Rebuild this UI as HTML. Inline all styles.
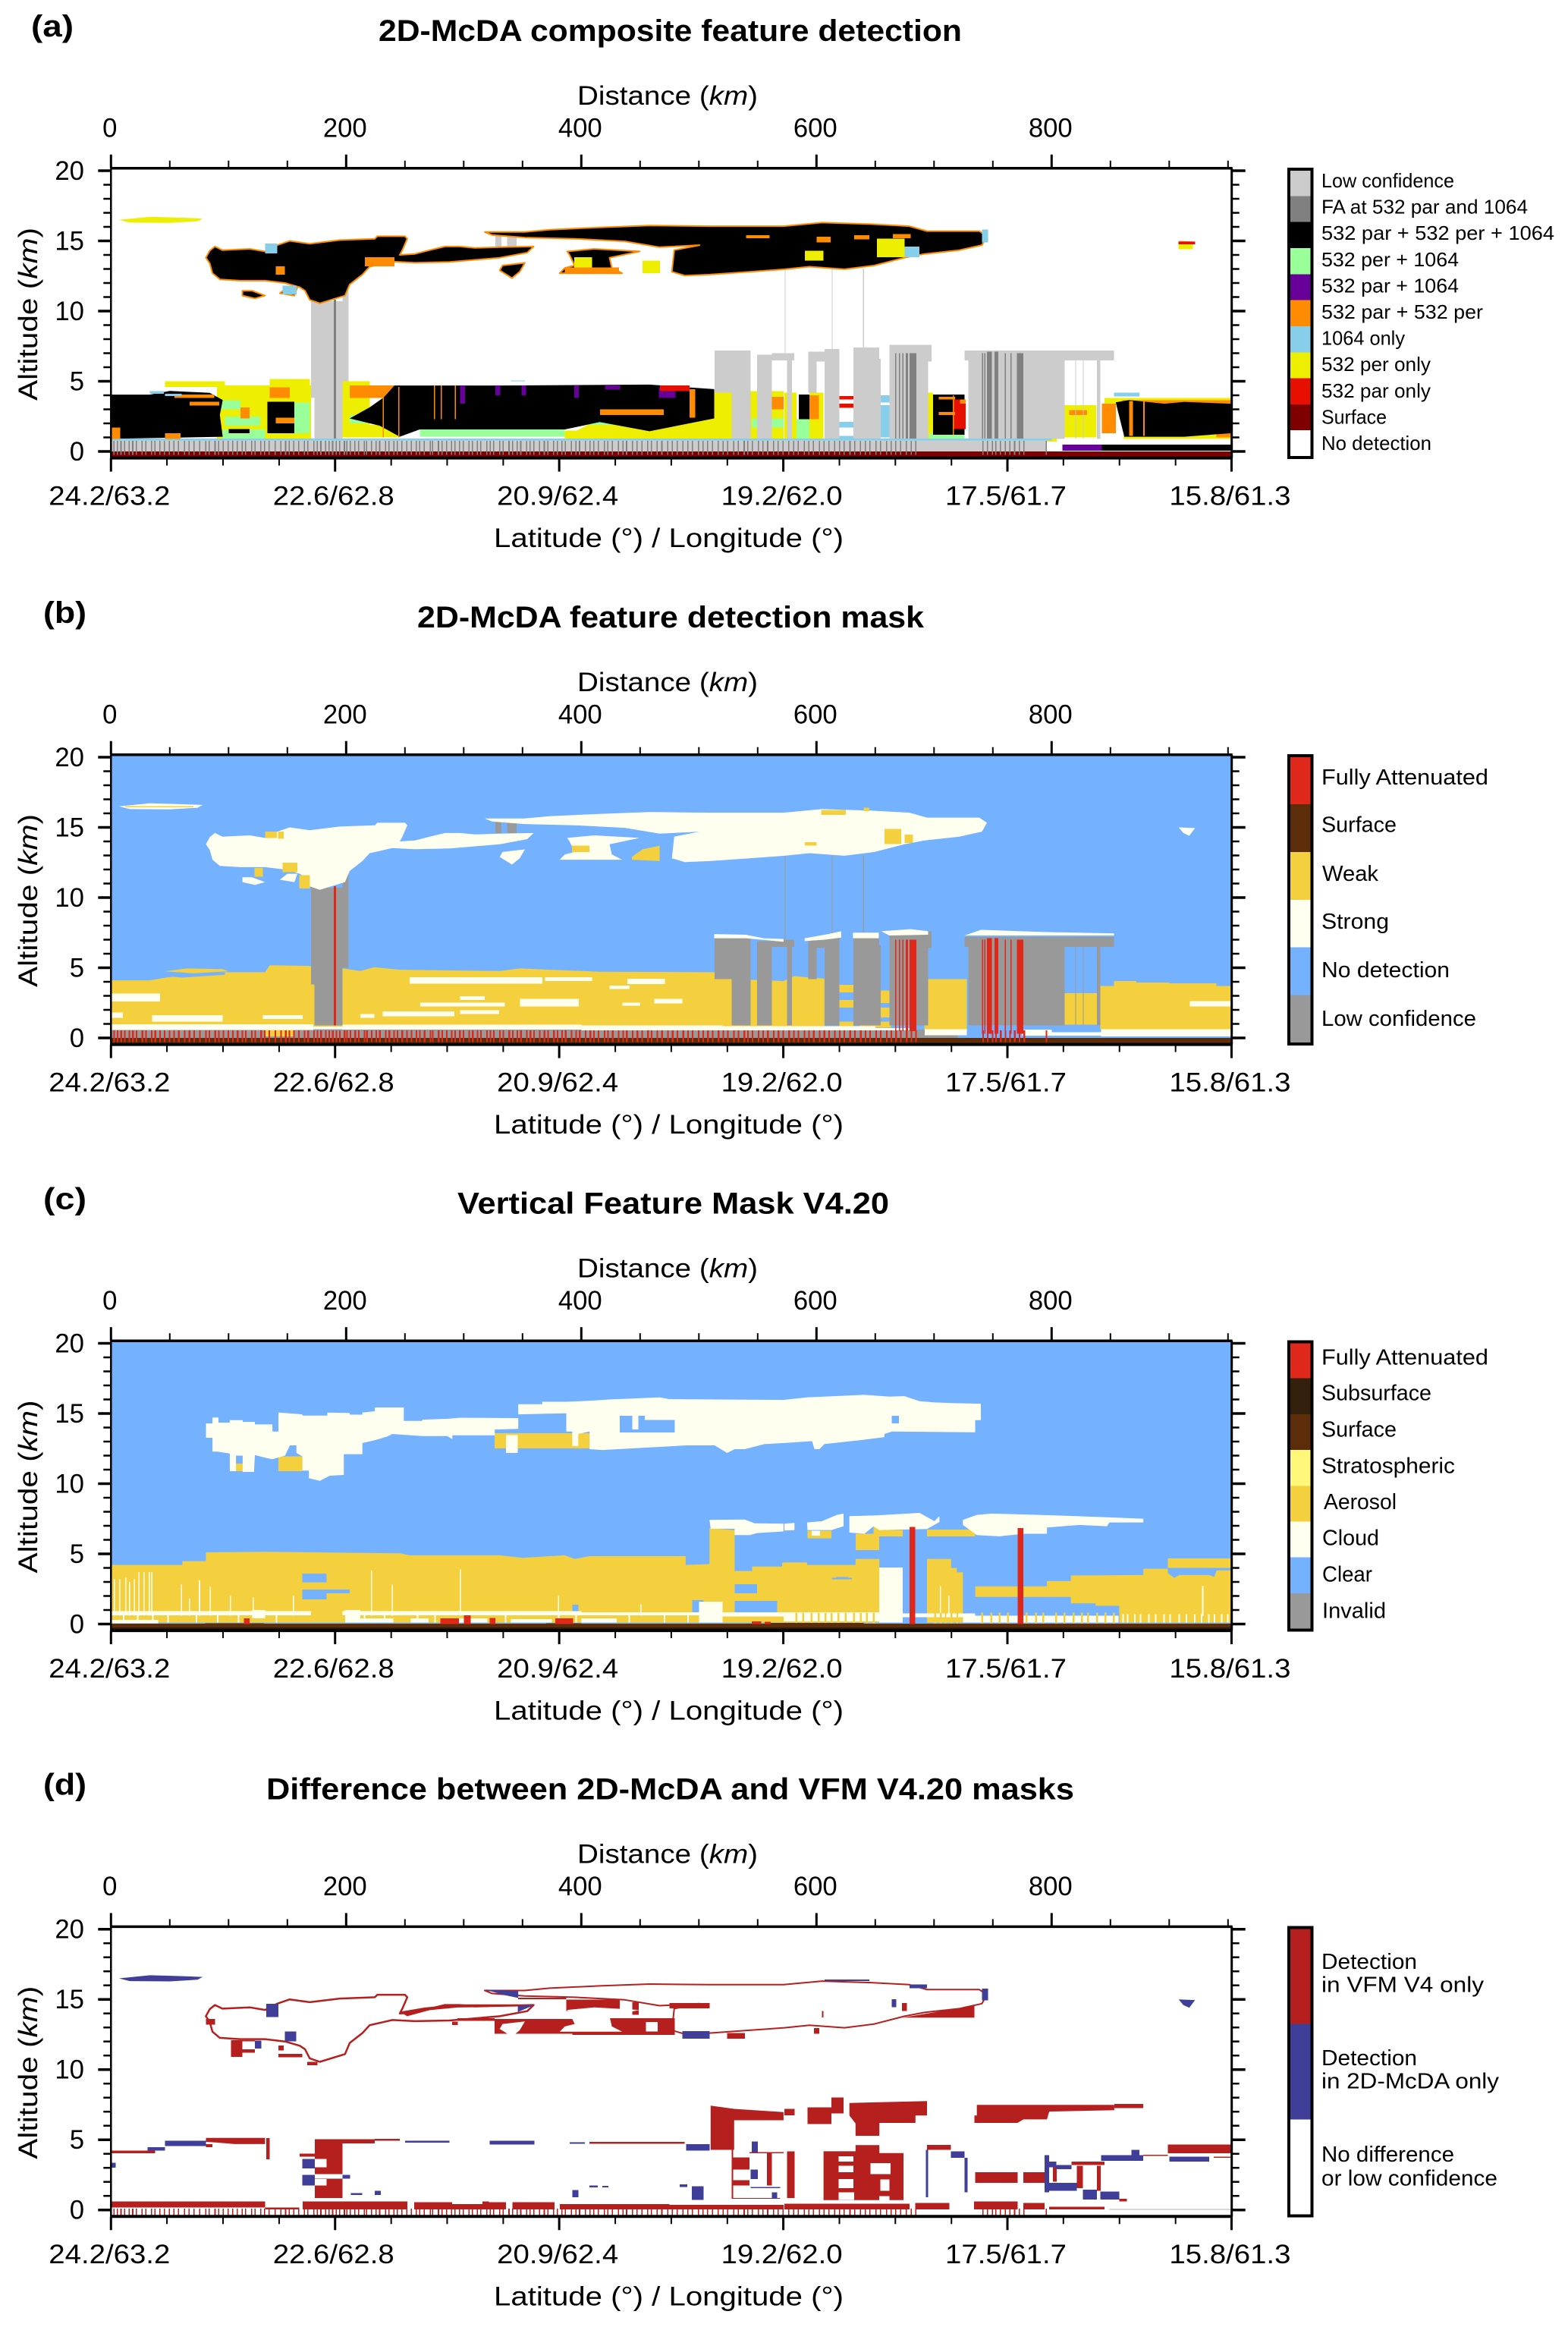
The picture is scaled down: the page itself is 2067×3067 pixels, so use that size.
<!DOCTYPE html>
<html lang="en">
<head>
<meta charset="utf-8">
<title>2D-McDA and VFM feature masks</title>
<style>
html,body{margin:0;padding:0;background:#fff}
svg{display:block}
#figure rect{shape-rendering:crispEdges}
text{font-family:"Liberation Sans",sans-serif;fill:#000}
.tt{font-size:40px;font-weight:bold}
.ax{font-size:35px}
.lg{font-size:29px}
.lga{font-size:26px}
</style>
</head>
<body>
<svg id="figure" xmlns="http://www.w3.org/2000/svg" width="2067" height="3067" viewBox="0 0 2067 3067">
<rect width="2067" height="3067" fill="#fff"/>

<g id="panel-a">
<text class="tt" x="41" y="48" textLength="56" lengthAdjust="spacingAndGlyphs">(a)</text>
<text class="tt" x="499" y="54" textLength="769" lengthAdjust="spacingAndGlyphs">2D-McDA composite feature detection</text>
<text class="ax" x="761" y="138" textLength="238" lengthAdjust="spacingAndGlyphs">Distance (<tspan font-style="italic">km</tspan>)</text>
<text class="ax" x="651" y="721" textLength="461" lengthAdjust="spacingAndGlyphs">Latitude (°) / Longitude (°)</text>
<text class="ax" transform="translate(49,528) rotate(-90)" textLength="228" lengthAdjust="spacingAndGlyphs">Altitude (<tspan font-style="italic">km</tspan>)</text>
<g>
<rect x="1700" y="224" width="29" height="34.3" fill="#cccccc"/>
<rect x="1700" y="258.3" width="29" height="34.3" fill="#808080"/>
<rect x="1700" y="292.6" width="29" height="34.4" fill="#000000"/>
<rect x="1700" y="327" width="29" height="34.3" fill="#99ff99"/>
<rect x="1700" y="361.3" width="29" height="34.3" fill="#660099"/>
<rect x="1700" y="395.6" width="29" height="34.3" fill="#ff8c00"/>
<rect x="1700" y="429.9" width="29" height="34.4" fill="#87ceeb"/>
<rect x="1700" y="464.3" width="29" height="34.3" fill="#eeee00"/>
<rect x="1700" y="498.6" width="29" height="34.3" fill="#e60f00"/>
<rect x="1700" y="532.9" width="29" height="34.3" fill="#7f0000"/>
<rect x="1700" y="567.2" width="29" height="34.3" fill="#ffffff"/>
<rect x="1699" y="223" width="30.5" height="380" fill="none" stroke="#000" stroke-width="4"/>
<text class="lga" x="1742" y="247" textLength="175" lengthAdjust="spacingAndGlyphs">Low confidence</text>
<text class="lga" x="1742" y="281.6" textLength="272" lengthAdjust="spacingAndGlyphs">FA at 532 par and 1064</text>
<text class="lga" x="1742" y="316.2" textLength="307" lengthAdjust="spacingAndGlyphs">532 par + 532 per + 1064</text>
<text class="lga" x="1742" y="350.8" textLength="181" lengthAdjust="spacingAndGlyphs">532 per + 1064</text>
<text class="lga" x="1742" y="385.4" textLength="181" lengthAdjust="spacingAndGlyphs">532 par + 1064</text>
<text class="lga" x="1742" y="420" textLength="213" lengthAdjust="spacingAndGlyphs">532 par + 532 per</text>
<text class="lga" x="1742" y="454.6" textLength="110" lengthAdjust="spacingAndGlyphs">1064 only</text>
<text class="lga" x="1742" y="489.2" textLength="144" lengthAdjust="spacingAndGlyphs">532 per only</text>
<text class="lga" x="1742" y="523.8" textLength="144" lengthAdjust="spacingAndGlyphs">532 par only</text>
<text class="lga" x="1742" y="558.4" textLength="86" lengthAdjust="spacingAndGlyphs">Surface</text>
<text class="lga" x="1742" y="593" textLength="145" lengthAdjust="spacingAndGlyphs">No detection</text>
</g>
</g>

<g id="panel-b" transform="translate(0,773)">
<text class="tt" x="57" y="48" textLength="57" lengthAdjust="spacingAndGlyphs">(b)</text>
<text class="tt" x="550" y="54" textLength="668" lengthAdjust="spacingAndGlyphs">2D-McDA feature detection mask</text>
<text class="ax" x="761" y="138" textLength="238" lengthAdjust="spacingAndGlyphs">Distance (<tspan font-style="italic">km</tspan>)</text>
<text class="ax" x="651" y="721" textLength="461" lengthAdjust="spacingAndGlyphs">Latitude (°) / Longitude (°)</text>
<text class="ax" transform="translate(49,528) rotate(-90)" textLength="228" lengthAdjust="spacingAndGlyphs">Altitude (<tspan font-style="italic">km</tspan>)</text>
<g>
<rect x="1700" y="224" width="29" height="62.9" fill="#e0281a"/>
<rect x="1700" y="286.9" width="29" height="62.9" fill="#5c2d08"/>
<rect x="1700" y="349.8" width="29" height="63" fill="#f4d03f"/>
<rect x="1700" y="412.8" width="29" height="62.9" fill="#fffff0"/>
<rect x="1700" y="475.7" width="29" height="62.9" fill="#74b2ff"/>
<rect x="1700" y="538.6" width="29" height="62.9" fill="#999999"/>
<rect x="1699" y="223" width="30.5" height="380" fill="none" stroke="#000" stroke-width="4"/>
<text class="lg" x="1742" y="261" textLength="220" lengthAdjust="spacingAndGlyphs">Fully Attenuated</text>
<text class="lg" x="1742" y="323.7" textLength="99" lengthAdjust="spacingAndGlyphs">Surface</text>
<text class="lg" x="1743" y="388" textLength="74" lengthAdjust="spacingAndGlyphs">Weak</text>
<text class="lg" x="1742" y="451" textLength="89" lengthAdjust="spacingAndGlyphs">Strong</text>
<text class="lg" x="1742" y="515" textLength="169" lengthAdjust="spacingAndGlyphs">No detection</text>
<text class="lg" x="1742" y="579" textLength="204" lengthAdjust="spacingAndGlyphs">Low confidence</text>
</g>
</g>

<g id="panel-c" transform="translate(0,1545.5)">
<text class="tt" x="57" y="48" textLength="57" lengthAdjust="spacingAndGlyphs">(c)</text>
<text class="tt" x="603" y="54" textLength="569" lengthAdjust="spacingAndGlyphs">Vertical Feature Mask V4.20</text>
<text class="ax" x="761" y="138" textLength="238" lengthAdjust="spacingAndGlyphs">Distance (<tspan font-style="italic">km</tspan>)</text>
<text class="ax" x="651" y="721" textLength="461" lengthAdjust="spacingAndGlyphs">Latitude (°) / Longitude (°)</text>
<text class="ax" transform="translate(49,528) rotate(-90)" textLength="228" lengthAdjust="spacingAndGlyphs">Altitude (<tspan font-style="italic">km</tspan>)</text>
<g>
<rect x="1700" y="224" width="29" height="47.2" fill="#e0281a"/>
<rect x="1700" y="271.2" width="29" height="47.2" fill="#33200c"/>
<rect x="1700" y="318.4" width="29" height="47.2" fill="#5c2d08"/>
<rect x="1700" y="365.6" width="29" height="47.2" fill="#fff67a"/>
<rect x="1700" y="412.8" width="29" height="47.2" fill="#f4d03f"/>
<rect x="1700" y="460" width="29" height="47.2" fill="#fffff0"/>
<rect x="1700" y="507.2" width="29" height="47.2" fill="#74b2ff"/>
<rect x="1700" y="554.4" width="29" height="47.2" fill="#999999"/>
<rect x="1699" y="223" width="30.5" height="380" fill="none" stroke="#000" stroke-width="4"/>
<text class="lg" x="1742" y="252.8" textLength="220" lengthAdjust="spacingAndGlyphs">Fully Attenuated</text>
<text class="lg" x="1742" y="300.2" textLength="145" lengthAdjust="spacingAndGlyphs">Subsurface</text>
<text class="lg" x="1742" y="347.8" textLength="99" lengthAdjust="spacingAndGlyphs">Surface</text>
<text class="lg" x="1742" y="396.2" textLength="176" lengthAdjust="spacingAndGlyphs">Stratospheric</text>
<text class="lg" x="1745" y="443.5" textLength="96" lengthAdjust="spacingAndGlyphs">Aerosol</text>
<text class="lg" x="1743" y="491.2" textLength="75" lengthAdjust="spacingAndGlyphs">Cloud</text>
<text class="lg" x="1743" y="538.8" textLength="66" lengthAdjust="spacingAndGlyphs">Clear</text>
<text class="lg" x="1743" y="586.8" textLength="84" lengthAdjust="spacingAndGlyphs">Invalid</text>
</g>
</g>

<g id="panel-d" transform="translate(0,2317.7)">
<text class="tt" x="57" y="48" textLength="57" lengthAdjust="spacingAndGlyphs">(d)</text>
<text class="tt" x="351" y="54" textLength="1065" lengthAdjust="spacingAndGlyphs">Difference between 2D-McDA and VFM V4.20 masks</text>
<text class="ax" x="761" y="138" textLength="238" lengthAdjust="spacingAndGlyphs">Distance (<tspan font-style="italic">km</tspan>)</text>
<text class="ax" x="651" y="721" textLength="461" lengthAdjust="spacingAndGlyphs">Latitude (°) / Longitude (°)</text>
<text class="ax" transform="translate(49,528) rotate(-90)" textLength="228" lengthAdjust="spacingAndGlyphs">Altitude (<tspan font-style="italic">km</tspan>)</text>
<g>
<rect x="1700" y="224" width="29" height="125.8" fill="#b5201f"/>
<rect x="1700" y="349.8" width="29" height="125.9" fill="#3f3f99"/>
<rect x="1700" y="475.7" width="29" height="125.8" fill="#ffffff"/>
<rect x="1699" y="223" width="30.5" height="380" fill="none" stroke="#000" stroke-width="4"/>
<text class="lg" x="1742" y="277.3" textLength="126" lengthAdjust="spacingAndGlyphs">Detection</text>
<text class="lg" x="1742" y="307.9" textLength="214" lengthAdjust="spacingAndGlyphs">in VFM V4 only</text>
<text class="lg" x="1742" y="404.3" textLength="126" lengthAdjust="spacingAndGlyphs">Detection</text>
<text class="lg" x="1742" y="435" textLength="234" lengthAdjust="spacingAndGlyphs">in 2D-McDA only</text>
<text class="lg" x="1742" y="531.3" textLength="175" lengthAdjust="spacingAndGlyphs">No difference</text>
<text class="lg" x="1742" y="562.9" textLength="232" lengthAdjust="spacingAndGlyphs">or low confidence</text>
</g>
</g>
</svg>

<script>
/* ---------- axis data ---------- */
const distanceTicks = [0, 200, 400, 600, 800];
const distanceMinorTicks = [50, 100, 150, 250, 300, 350, 450, 500, 550, 650, 700, 750, 850, 900, 950];
const altitudeTicks = [0, 5, 10, 15, 20];
const altitudeMinorTicks = [1, 2, 3, 4, 6, 7, 8, 9, 11, 12, 13, 14, 16, 17, 18, 19];
const latLonLabels = ['24.2/63.2', '22.6/62.8', '20.9/62.4', '19.2/62.0', '17.5/61.7', '15.8/61.3'];
const latLonTickKm = [0, 190.6, 381.2, 571.8, 762.4, 953];
const latLonMinorKm = [47.6, 95.3, 143, 238.3, 285.9, 333.6, 428.9, 476.5, 524.2, 619.5, 667.1, 714.8, 810, 857.7, 905.4];

/* ---------- shared feature outlines: [km, altitude] ---------- */
const cloudMain = [[80.7,13.8],[84,14.3],[88.4,14.6],[94.8,14.34],[118,14.43],[131,14.25],[141.5,14.7],[152,15],[169,14.8],[194.6,15.06],[224.4,15.15],[226.5,15.33],[250,15.33],[252,15.15],[247.8,14.34],[245.6,14],[258.4,14.07],[271,14.34],[284,14.6],[296.6,14.6],[309.4,14.5],[330.6,14.55],[359.5,14.6],[354,14.16],[330.6,13.8],[288,13.5],[258.4,13.45],[239.3,13.53],[220,13.16],[213.8,12.6],[203,11.9],[199,11.1],[177.6,10.55],[169,10.8],[165,11.45],[160.6,11.7],[148,12],[131,12.17],[109.6,12.17],[92.6,12.26],[86.3,12.7],[84,13.4]];
const cloudLong = [[317.9,15.63],[351.9,15.63],[373,15.8],[415.6,15.96],[458,16.09],[509,16.05],[572,16.05],[604.7,16.3],[645,16.2],[679,16.05],[694,15.7],[738.5,15.7],[745,15.33],[740.7,14.7],[721.5,14.34],[691.8,14.07],[674.8,13.8],[649.3,13.25],[623.8,12.98],[594,13.16],[572.8,12.98],[543,12.8],[509,12.6],[488,12.53],[477,12.8],[479,14.34],[500.6,14.7],[466.6,14.55],[437,14.97],[394.4,15.15],[352,15.24],[324,15.42]];
const cloudTopBlob = [[6.8,16.5],[33,16.72],[54,16.67],[78,16.6],[73.6,16.4],[50,16.28],[16,16.3]];
const cloudSmall = [[333,13.25],[352,13.43],[347.6,12.8],[341,12.35],[330.6,12.9]];
const cloudMid = [[388,14.25],[411,14.43],[449.6,14.25],[424,13.8],[426,13.07],[434.8,12.7],[407,12.7],[381.6,12.7],[386,13.07],[394.4,13.25],[390,14]];
const cloudBitLeft = [[111.8,11.45],[120,11.45],[131,11.1],[122.4,10.9],[111.8,11.1]];
const cloudBitMid = [[150,11.7],[158.5,11.7],[156,11.1],[143.6,11.27]];
const cloudTiny = [[908,15],[922,14.95],[917,14.4],[912,14.6]];
const weakPatchRight = [[443,12.9],[452,13.43],[466.6,13.7],[466.6,12.6],[443,12.7]];

/* ---------- low-confidence curtains: [km0, km1, alt0, alt1] ---------- */
const lowConfidenceCurtains = [[170,173,3.8,10.8],[173,197,.9,10.7],[197,202,5,12],[513.4,528,4.2,7.2],[528,544,.9,7.2],[549.5,562,.9,6.9],[562,581,6.5,7],[575,579,.9,6.6],[593,619.5,6.4,7.1],[593,600,4.2,6.5],[607,619.5,.9,7.3],[631.5,653.5,.9,7.4],[652,654.5,.9,6.6],[662,698,6.4,7.6],[662,695,.9,7.5],[725.8,853,6.5,7.2],[729,811,.9,7.2],[838.4,841.4,.9,6.6],[820,820.8,.9,6.6],[826.5,827.3,.9,6.6],[573,573.8,7,13],[613,613.8,7,13],[639.5,640.3,7,13],[327,332,14.6,15.4],[337,345,14.6,15.4]];

/* surface-hit profile positions, km */
const profileSpikeKm = [2,5,8,11,15,18,21,26,29,34,37,41,45,49,53,57,62,66,70,75,80,83,88,91,95,99,103,107,111,114,119,122,127,130,134,139,144,148,151,155,159,164,167,172,175,178,182,185,188,191,194,198,200,203,207,210,215,217,221,225,228,233,236,240,243,247,251,255,259,262,266,271,273,278,281,285,289,292,296,299,304,307,311,314,319,322,325,330,333,338,341,345,348,353,356,359,364,368,371,376,379,383,386,391,395,398,403,407,410,414,419,422,426,431,435,438,443,447,451,456,459,464,468,473,477,481,486,490,494,499,503,507,511,516,520,524,529,533,538,541,545,550,554,558,563,567,571,576,580,584,589,593,597,602,606,610,615,619,623,628,632,637,641,645,650,654,659,663,667,671,676,680,684,741,745,749,752,756,760,764,768,772,776,795];

/* ---------- panel a: composite ---------- */
const aYellowPolys = [cloudTopBlob];
const aYellowZones = [[0,10,.9,1.4],[90,170,.9,4.7],[135,169,4.7,5.15],[46,97,4.6,5],[197,220,1,5],[220,245,1,1.9],[386,513,.85,1.5],[513,572,.8,4.3],[572.8,583,.8,4.2],[594,606,.8,4.2],[694,699,.8,4.2],[794,804.4,.7,3.8],[808.6,838,1,3.3],[845,953,3.4,3.8],[861,953,.9,1.2]];
const aYellowLens = [[386,1.05],[407,1.96],[428.6,2.09],[458,1.44],[513,2.35],[513,.8]];
const aGreenZones = [[84,110,3,3.66],[97,127,1.83,2.48],[95,131,.9,1.57],[156,169,1.3,3.5],[203,226,2,2.6],[262.6,386,1.05,1.57],[407,428,1.9,2.2],[545,572,1.7,2.35],[583,594,.8,2.3],[696,726,.65,1.3]];
const aOrangeZones = [[0,10,3.4,3.53],[135,152,3.8,4.57],[110,118,2.35,3.14],[203,241,3.8,4.7],[562,572,3,3.9],[594,602,2.3,4],[842.7,854.5,1.3,3.4],[860,953,3.4,3.65],[815,830,2.6,2.95],[940,953,1,1.3]];
const aBlackLowLeft = [[0,4.05],[33,4.05],[50,4.31],[84,4.18],[95,3.66],[92.6,2.6],[95,1.05],[0,.9]];
const aBlackLowMain = [[232,3.85],[241,4.7],[330.7,4.7],[458,4.76],[513,4.44],[513,2.35],[458,1.44],[415.6,2.09],[386,1.57],[330.7,1.57],[262.6,1.57],[245.6,1.05],[228.6,1.83],[203,2.35],[220,3.14]];
const aBlackLowRight = [[854.5,3.5],[866,3.66],[895.8,3.4],[912.8,3.53],[952.3,3.4],[952.3,1.3],[912.8,1.05],[861.8,1.05]];
const aBlackZones = [[133,156,1.3,3.53],[100,118,1.3,1.6],[585,594,2.3,4.05],[699,726,1.2,4.05],[842.7,953,.05,.5]];
const aOrangeOverBlack = [[54,88,3.8,4.05],[67,92,3.27,3.53],[0,8,.9,1.7],[46,59,.9,1.3],[492,497,2.4,4.44],[231,232,1,4.4],[244.4,245.4,1,4.6],[274.5,275.5,2.3,4.7],[280.5,281.5,2.3,4.7],[292.4,293.4,2.3,4.7],[416,470,2.6,3],[140,156,2,2.4],[866,869,1.1,3.6],[878,879,1.1,3.6],[716,717,1.2,4],[704,718,2.6,2.8],[704,718,3.7,3.9],[722,727,3.4,3.7],[216,241,13.2,13.85],[140,148,12.6,13.2],[386,432,12.7,13.1],[600,612,14.9,15.3],[632,645,15.1,15.4],[665,680,15.2,15.5],[540,560,15.2,15.4]];
const aPurpleZones = [[297,301,3.4,4.7],[327,331,4,4.7],[349,353,4,4.7],[394,398,3.8,4.7],[420,433,4.4,4.7],[466,480,3.8,4.57],[646,652,4.1,4.4],[809,842.6,.05,.5],[131,136,14.3,14.7]];
const aRedZones = [[467,492,4.3,4.7],[619.5,631.5,3.7,3.95],[619.5,631.5,3.1,3.4],[646,652,3,3.4],[717,727,1.6,3.7],[908,922,14.75,14.95]];
const aBlueZones = [[131,141.5,14.1,14.8],[619.5,631.5,1.7,2.1],[619.5,631.5,.8,1.1],[653.5,662,1,3.3],[653.5,662,3.5,4],[853,874.5,3.92,4.18],[740.7,746,14.9,15.8],[675,687.5,13.85,14.6],[33,45,4.1,4.3],[46,60,3.95,4.1],[146,158,11.2,11.8],[340,352,5,5.05]];
const aYellowOverCloud = [[394,409,12.7,13.85],[452,467,12.7,13.6],[651.4,675,13.85,15.16],[590,606,13.6,14.3],[908,920,14.4,14.75],[12,70,16.4,16.55]];
const aBlueLine = [[0,800,.78,.92]];
const aGrayBand = [[0,795,0,.78]];
const aSurface = [[0,953,-.46,0]];

/* ---------- panel b: detection mask ---------- */
const bWeakLayer = [[0,4.1],[33,4.1],[48,4.32],[97,4.68],[131,4.68],[135,5.18],[169,5.13],[173,4.95],[197,4.95],[212,4.77],[224,5.04],[245.7,4.86],[330.7,4.77],[348,4.95],[373.6,4.86],[415.6,4.72],[513.4,4.68],[513.4,4.2],[528,4.2],[572,4.05],[581.3,4.41],[594,4.3],[606.8,4.23],[606.8,.8],[0,.8]];
const bWeakBlob = [[46,4.75],[65,4.95],[95,4.9],[100,4.75],[70,4.6]];
const bClearSliver = [[48,4.42],[97,4.66],[97,4.5],[60,4.3]];
const bWeakRects = [[619.5,631.5,3.24,3.78],[619.5,631.5,2.16,2.7],[619.5,631.5,.72,1.17],[637,646.3,.72,3.1],[646.3,663.3,2.5,3.37],[646.3,663.3,1.45,2.16],[646.3,663.3,.72,1.17],[691.8,727.9,.6,4.2],[793.8,799,.9,3.8],[803,810.8,1,3.3],[810.8,838.4,.95,3.2],[841.4,953,.6,3.7],[853,872,3.7,4.05],[872,900,3.7,3.95],[900,940,3.7,3.88],[131,156,.1,.6],[142,147,14.2,14.7],[131,141,14.25,14.7],[122,129,11.5,12.1],[146,158.5,11.8,12.5],[160,169,10.65,11.6],[392,407,13.25,13.7],[12,70,16.42,16.52],[590,600,13.7,13.95],[658,672,13.8,14.9],[675,682,13.9,14.5],[604,625,15.9,16.25],[640,645,16.15,16.4]];
const bStrongBand = [[0,172,.58,.98],[172,197,.62,.8],[197,400,.6,.95],[400,520,.55,.9],[520,650,.55,.85],[650,680,.55,.7],[692,728,.2,.63],[775,800,.15,.6],[800,842,.15,.4],[842,953,.1,.63]];
const bStrongPatches = [[0,41.7,2.6,3.15],[0,10,1.44,1.8],[35,95,1.17,1.62],[129,163,1.35,1.62],[254,367,3.87,4.32],[369,409,4.05,4.32],[439,471,3.83,4.23],[424,441,3.5,3.73],[263,335,2.25,2.52],[297,318,2.7,2.97],[348,398,2.25,2.79],[435,450,2.29,2.52],[462,486,2.47,2.79],[231,292,1.53,1.89],[212,224,1.44,1.71],[297,330,1.7,1.98],[917.5,952.3,2.25,2.61]];
const bStrongCaps = [[[513,7.4],[540,7.35],[555,7.1],[572,7.05],[572,6.85],[540,7.1],[513,7.1]],[[590,7.1],[610,7.4],[621,7.6],[621,7.15],[607,7],[590,6.9]],[[631,7.5],[653,7.5],[653,7.1],[631,7.1]],[[655,7.6],[680,7.75],[695,7.6],[695,7.35],[662,7.3]],[[726,7.3],[740,7.7],[790,7.55],[853,7.45],[853,7.3],[790,7.3],[740,7.3]]];
const bGrayBand = [[0,720,0,.6]];
const bAttenuatedLines = [[189.5,191.5,.9,10.8],[667,668,.5,7],[670,671,.5,7],[673,674,.5,7],[676,678,.5,7],[679,685,.5,7],[740.7,741.7,.3,7],[742.8,743.8,.3,7],[745,749.2,.3,7.1],[751.3,754.7,.3,7.1],[760,761,.3,7],[765,766,.3,7],[770.4,776,.3,7]];
const bSurface = [[0,953,-.46,0]];

/* ---------- panel c: VFM ---------- */
const cCloudLeft = [[80.8,13.27],[80.8,14.29],[86.3,14.29],[86.3,14.71],[91.4,14.71],[91.4,14.35],[101,14.35],[101,14.53],[112,14.53],[112,14.4],[122.4,14.4],[122.4,14.22],[137.3,14.22],[137.3,13.72],[142.4,13.72],[142.4,15.07],[162.8,14.94],[162.8,14.85],[184,14.85],[184,15.07],[203,15.03],[203,14.92],[213.8,14.92],[213.8,15.07],[224.4,15.16],[224.4,15.43],[249,15.43],[249,14.47],[264.8,14.47],[264.8,14.56],[286,14.62],[296.7,14.7],[346.4,14.67],[346.4,13.9],[326.4,13.86],[326.4,13.45],[290.3,13.45],[290.3,13.18],[286,13.39],[264.8,13.39],[239.3,13.54],[235,13.36],[224.4,13.09],[213.8,12.9],[213.8,12.1],[198,12.1],[198,10.62],[186,10.57],[177.7,10.2],[168.3,10.39],[168.3,10.93],[162.8,10.93],[162.8,11.95],[157.7,12.19],[157.7,12.73],[152.2,12.73],[148,12],[137.3,11.74],[132.2,11.83],[122.4,12.04],[121.6,10.84],[112,10.84],[112,12],[106.3,12],[106.3,10.89],[101,10.89],[101,12.15],[90.5,12.28],[86.3,12.28],[86.3,13.27]];
const cCloudLong = [[346.4,15.66],[366.8,15.66],[366.8,15.84],[388,15.84],[407,15.91],[424,16],[466.7,16.15],[475,16.02],[572,15.97],[592,16.15],[640.8,16.33],[662,16.2],[674.8,16.24],[687.6,15.88],[700.3,15.79],[719.4,15.73],[739.8,15.7],[739.8,14.53],[735,14.53],[735,13.66],[664.2,13.72],[657.8,13.54],[657.8,13.32],[636.5,13.09],[606.8,12.82],[602.5,12.46],[598.3,12.46],[596.2,13.03],[572.8,12.9],[555.9,12.82],[539,12.46],[530.4,12.46],[524,12.19],[513.4,12.73],[490,12.73],[417.8,12.4],[407,12.46],[407,13.72],[397.4,13.54],[397.4,12.69],[392.3,12.69],[392.3,13.72],[387.2,13.72],[387.2,15.01],[366.8,14.98],[346.4,14.94]];
const cClearHoles = [[432.7,443.3,13.66,14.85],[443.3,479.4,13.66,13.86],[448.4,479.4,13.86,14.53],[448.4,454,14.53,14.85],[664,670,14.3,14.85],[162.8,183.2,2.97,3.6],[162.8,203,2.2,2.47],[162.8,183.2,1.75,2.2],[530.4,549.5,2.2,2.83],[530.4,566.5,.85,1.66],[494.2,504,.67,1.69],[392.3,397.4,.88,1.39],[613,630,3.2,3.3],[617,627,3.3,3.35]];
const cAerosolRects = [[326.4,407,12.51,13.59],[142.4,162.8,10.89,11.95],[106.3,112,10.89,11.43],[633.2,653.5,5.26,6.43],[648.5,653.5,6.43,6.97],[653.5,673.5,6.25,6.7],[694,735.1,6.25,6.73],[592.4,612.8,6.12,6.66],[898.8,953,4,4.68]];
const cAerosolMain = [[0,4.21],[60.8,4.21],[60.8,4.48],[80.8,4.48],[80.8,5.11],[131,5.15],[245.7,5.04],[254,4.9],[330.7,4.9],[349.8,4.72],[386,4.9],[394.4,4.63],[407,4.84],[488.8,4.84],[488.8,4.21],[509,4.27],[509,6.82],[530.4,6.7],[530.4,3.78],[545.3,3.78],[545.3,4.09],[570.8,4.09],[570.8,4.36],[572.8,4.39],[592,4.39],[592,4.21],[633.2,4.21],[633.2,4.63],[653.5,4.63],[653.5,.1],[0,.1]];
const cAerosolMiddle = [[694,4.63],[714.5,4.63],[714.5,4],[719.4,4],[719.4,3.69],[724.5,3.69],[724.5,.1],[694,.1]];
const cAerosolRight = [[735.1,2.68],[796,2.68],[796,3.06],[816.3,3.06],[816.3,3.46],[878,3.49],[878,3.94],[898.8,3.94],[898.8,3.64],[904.3,3.28],[908.5,3.49],[934,3.49],[938.3,3.37],[940.4,3.82],[953,3.82],[953,.1],[857.5,.1],[857.5,1.3],[837.4,1.3],[837.4,1.48],[816.3,1.48],[816.3,1.93],[735.1,1.93]];
const cCloudLowOne = [[724.5,7.42],[736.4,7.78],[749.2,7.87],[802.3,7.74],[849,7.6],[878,7.5],[878,7.24],[849,7.24],[847,6.97],[823.5,7.06],[796,6.88],[796,6.43],[776,6.43],[755.5,6.25],[736.4,6.34],[724.5,7.06]];
const cCloudLowTwo = [[628,7.69],[651.4,7.74],[687.6,7.92],[700.3,7.33],[704.6,7.69],[704.6,7.27],[694,6.77],[653.5,6.7],[648.5,6.97],[640.8,6.43],[628,6.52]];
const cCloudLowThree = [[592,7.24],[604.7,7.33],[617.4,7.78],[623,7.87],[623,6.97],[612.8,6.7],[592.4,6.7]];
const cCloudLowFour = [[572.8,7.15],[581.3,7.2],[581.3,6.7],[572.8,6.66]];
const cCloudLowFive = [[509,7.42],[539,7.45],[547.4,7.18],[572,7.15],[572,6.6],[549.5,6.48],[543.2,6.34],[530.4,6.34],[530.4,6.79],[510,6.79]];
const cCloudRects = [[653.5,673.5,.1,4.03],[335.8,346,12.18,13.45],[596,603,6.3,6.66],[0,170,.62,.92],[197,400,.62,.92],[400,500,.62,.85],[500,650,.55,.85],[673,735,.5,.75],[0,40,.05,.3],[120,131,.4,1],[199,212,.1,1],[212,240,.1,.4],[255,270,.1,.4],[280,320,.1,.4],[340,375,.1,.35],[400,430,.1,.4],[500,520,.1,1.6],[572,653.5,.2,.85],[724.5,857,.1,.6]];
const cCloudSpikes = [[2.5,3.2],[7,3.2],[12,3.3],[15.3,3],[19.6,3.2],[23.4,3.7],[27.6,3.7],[32,3.7],[34.4,3.7],[59.5,2.8],[66.3,1.8],[74.8,3.1],[84,2.65],[101,2],[120.3,1.9],[154.5,2],[221,3.8],[238.7,2.8],[296.6,3.9],[380,2],[450,1.4],[705,2.7],[712,2],[928,2.7]];
const cGroundFlecks = [582,588,595,601,607,612,618,624,631,637,642,648,700,705,709,714,719,740,748,755,762,778,786,792,803,810,818,825,830,838,845,852];
const cCloudFlecks = [860,864,870,875,882,888,895,900,908,914,921,927,933,938,944,949,10,22,35,48,72,90,108,140,215,232,260,275,335,380,395,440,470,490];
const cAttenuated = [[679,684,0,6.92],[771,776,0,6.85],[113,118,0,.4],[280,296,0,.4],[300,306,0,.62],[322,327,0,.42],[378,393,0,.4],[545,553,0,.2],[556,561,0,.17]];
const cSurface = [[0,953,-.25,.03],[80,130,0,.06],[370,400,0,.06],[560,640,0,.07]];
const cSubsurface = [[0,953,-.46,-.25]];

/* ---------- panel d: difference ---------- */
const dBlueTopBlob = [cloudTopBlob, cloudTiny];
const dVfmBlocksUpper = [[326.4,392.3,12.54,13.61],[387.2,432.7,14.18,14.99],[392.3,479.4,12.48,13.65],[443.3,448.8,13.9,14.8],[346.4,387.2,15,15.12],[294.5,326.4,13.48,13.67],[290,295,13.18,13.42],[102,122.4,10.9,12.1],[142.4,150.9,11.36,11.72],[142.4,162.8,10.88,11.12],[167,175.6,10.3,10.55],[80.8,88.4,13.2,13.6],[524,539,12.2,12.6],[475,509.2,14.37,14.74],[604.7,606,13.7,14.17],[598,602.5,12.54,12.95],[672.7,677,14.17,14.74]];
const dVfmBand = [[245.6,14.12],[266.9,14.42],[294.5,14.65],[346.4,14.65],[346.4,14.5],[294.5,14.42],[271,14.23],[251.9,13.8]];
const dVfmBase = [[673,13.7],[734.3,14.55],[734.3,13.7]];
const dWhiteUpper = [[111.8,122.4,11.45,12],[111.8,122.4,10.9,11.2],[455,465,12.7,13.4],[147,162,11.2,11.9]];
const dNavyUpper = [[132.2,142.4,13.75,14.68],[148,157.7,12,12.7],[122.4,127.9,11.5,12.06],[485.8,509,12.2,12.75],[740.7,746,14.93,15.77],[607,645,16.3,16.42],[679,694,15.8,16.06],[664,668,14.45,15]];
const dNavyWedges = [[[318,15.7],[346.4,15.6],[346.4,15.1],[335,15.3]],[[346,14.1],[360,14.6],[346,14.55]]];
const dVfmUpperRight = [[628,7.62],[694,7.75],[694,6.73],[736.4,6.73],[736.4,7.48],[853.3,7.48],[853.3,7.1],[798,7.01],[796,6.45],[776,6.45],[771,6.2],[734.3,6.2],[734.3,6.73],[684.2,6.73],[684.2,6.2],[653.5,6.2],[653.5,5.28],[633.2,5.28],[633.2,6.16],[628,6.73]];
const dVfmLowBlock = [[606,4.18],[633.2,4.18],[633.2,4.62],[653.5,4.62],[653.5,4.05],[674,4.05],[674,.7],[606,.7]];
const dVfmLeftTop = [[80.8,5.13],[131,5.13],[131,4.69],[105,4.69],[90,4.8],[80.8,4.85]];
const dVfmColumn = [[510,4.28],[510,7.43],[530,7.2],[572,6.97],[572,6.39],[530,6.39],[530,4.28]];
const dVfmBlocksLow = [[173.4,197,.85,5.03],[160.6,173.4,3.8,4],[80.8,86.4,4.47,4.69],[0,37.4,4.05,4.22],[132,135,3.6,5.13],[197,224.4,4.75,5.03],[224.4,245.7,4.94,5.07],[407,488,4.7,4.85],[528.3,543,2.87,3.75],[528.3,543,1.73,2.11],[557.8,562,1.73,4.09],[528,529,.8,4.28],[528,569,.8,.85],[543,572,4.05,4.13],[572.8,581.3,6.73,7.2],[592.4,612.8,6.13,7.3],[612.8,623,6.88,8],[853.3,878,7.26,7.54],[575,581.3,.85,4.18],[694,714.3,4.28,4.62],[735,771,1.92,2.68],[776,794,1.92,2.68],[821.4,826.5,1.55,3.15],[838.4,841.8,1.36,3.15],[801,804.4,2,3.05],[817,845,3.19,3.43],[878,898.8,3.86,3.94],[898.8,952.3,4.03,4.66],[938,952,3.7,3.8],[857.5,864,.6,.8]];
const dVfmGround = [[0,131,.17,.6],[131,160,.04,.17],[163,252,.04,.6],[258,290,.04,.55],[290,316,.04,.41],[316,321.3,.04,.6],[321,336,.04,.55],[341.3,377.3,.04,.55],[381.6,475,.04,.41],[475,572,.04,.35],[572.8,679,.04,.45],[684,713,.04,.5],[734,771,.04,.6],[776,794,.04,.5],[798,845,.04,.22]];
const dWhiteLow = [[173.4,183.2,3.05,3.62],[173.4,197,2.24,2.54],[173.4,183.2,1.73,2.2],[618.7,631.5,3.43,3.81],[618.7,631.5,2.68,3.15],[646,663,2.54,3.34],[654.4,662,1.36,2.17],[618.7,631.5,1.55,2.2],[618.7,632,.7,1.26],[653.5,662,.5,.98]];
const dNavyLow = [[162.8,173.4,2.96,3.62],[162.8,173.4,1.73,2.49],[197,203.4,2.24,2.49],[204,213.8,1.07,1.2],[224.4,229.5,1.07,1.36],[46,80.8,4.56,4.94],[31,46,4.22,4.47],[250,288,4.8,4.94],[322,360,4.65,4.94],[390,403,4.7,4.82],[489,509,4.24,4.69],[545,550,4.09,4.88],[544,550,2.2,2.87],[544,569,1.55,1.64],[562,566.5,.8,1.26],[483.6,490,1.64,1.83],[494,504,.7,1.68],[392.3,397.4,.89,1.41],[407,414,1.6,1.73],[418,423,1.6,1.7],[0,4,3,3.35],[693,695,.89,4.28],[726,728.4,1.26,3.71],[714.3,726,3.71,4.18],[794,798,1.26,3.9],[798,804,3.05,3.43],[794,821.4,1.36,1.92],[826.5,838.4,.74,1.45],[841.4,857.5,.74,1.3],[804,817,2.9,3.2],[842,878,3.49,3.9],[868,874.5,3.9,4.28],[900,934,3.43,3.8]];
const dFaintLine = [[849,953,0,.06]];

/* ---------- layout and axis functions ---------- */
const SVGNS = 'http://www.w3.org/2000/svg';
const PLOT_LEFT = 146.3, PLOT_RIGHT = 1623.7, PLOT_TOP = 221.7, PLOT_BOTTOM = 603.6;
const KM_SCALE = 1.55, ALT_ZERO = 595, ALT_SCALE = 18.5;
function X(km) { return PLOT_LEFT + km * KM_SCALE; }
function Y(alt) { return ALT_ZERO - alt * ALT_SCALE; }

function drawRect(parent, row, color, name) {
  const el = document.createElementNS(SVGNS, 'rect');
  el.setAttribute('x', X(row[0]).toFixed(2));
  el.setAttribute('y', Y(row[3]).toFixed(2));
  el.setAttribute('width', Math.max(1, X(row[1]) - X(row[0])).toFixed(2));
  el.setAttribute('height', (Y(row[2]) - Y(row[3])).toFixed(2));
  el.setAttribute('fill', color);
  
  
  parent.appendChild(el);
}
function drawPoly(parent, pts, color, name, stroke, width) {
  const el = document.createElementNS(SVGNS, 'polygon');
  el.setAttribute('points', pts.map(p => X(p[0]).toFixed(1) + ',' + Y(p[1]).toFixed(1)).join(' '));
  el.setAttribute('fill', color);
  if (stroke) { el.setAttribute('stroke', stroke); el.setAttribute('stroke-width', width); el.setAttribute('stroke-linejoin', 'round'); }
  
  
  parent.appendChild(el);
}
function rects(parent, rows, color, name) { rows.forEach(r => drawRect(parent, r, color, name)); }
function polys(parent, list, color, name, stroke, width) { list.forEach(p => drawPoly(parent, p, color, name, stroke, width)); }
function spikes(parent, kms, color, name, alt0, alt1, w) {
  kms.forEach(k => drawRect(parent, [k, k + w, alt0, alt1], color, name));
}
function drawLine(parent, x1, y1, x2, y2, w, name) {
  const el = document.createElementNS(SVGNS, 'line');
  el.setAttribute('x1', x1); el.setAttribute('y1', y1);
  el.setAttribute('x2', x2); el.setAttribute('y2', y2);
  el.setAttribute('stroke', '#000');
  el.setAttribute('stroke-width', w);
  
  
  parent.appendChild(el);
}
function drawText(parent, str, x, y, len, anchor, name) {
  const el = document.createElementNS(SVGNS, 'text');
  el.setAttribute('x', x); el.setAttribute('y', y);
  el.setAttribute('class', 'ax');
  el.setAttribute('text-anchor', anchor);
  el.setAttribute('textLength', len);
  el.setAttribute('lengthAdjust', 'spacingAndGlyphs');
  
  
  el.textContent = str;
  parent.appendChild(el);
}
function makePlot(panelId, bg) {
  const panel = document.getElementById(panelId);
  const clip = document.createElementNS(SVGNS, 'clipPath');
  clip.setAttribute('id', 'clip-' + panelId);
  const cr = document.createElementNS(SVGNS, 'rect');
  cr.setAttribute('x', PLOT_LEFT); cr.setAttribute('y', PLOT_TOP);
  cr.setAttribute('width', PLOT_RIGHT - PLOT_LEFT); cr.setAttribute('height', PLOT_BOTTOM - PLOT_TOP);
  clip.appendChild(cr);
  panel.appendChild(clip);
  const g = document.createElementNS(SVGNS, 'g');
  g.setAttribute('clip-path', 'url(#clip-' + panelId + ')');
  
  
  panel.appendChild(g);
  const bgEl = document.createElementNS(SVGNS, 'rect');
  bgEl.setAttribute('x', PLOT_LEFT); bgEl.setAttribute('y', PLOT_TOP);
  bgEl.setAttribute('width', PLOT_RIGHT - PLOT_LEFT); bgEl.setAttribute('height', PLOT_BOTTOM - PLOT_TOP);
  bgEl.setAttribute('fill', bg);
  
  
  g.appendChild(bgEl);
  return g;
}
function drawAxes(panelId) {
  const g = document.createElementNS(SVGNS, 'g');
  
  
  document.getElementById(panelId).appendChild(g);
  drawLine(g, PLOT_LEFT, PLOT_TOP, PLOT_RIGHT + 1, PLOT_TOP, 3.5, 'top-axis-line');
  drawLine(g, PLOT_LEFT, PLOT_BOTTOM, PLOT_RIGHT + 1, PLOT_BOTTOM, 4, 'bottom-axis-line');
  drawLine(g, PLOT_LEFT, PLOT_TOP, PLOT_LEFT, PLOT_BOTTOM, 2.5, 'left-axis-line');
  drawLine(g, PLOT_RIGHT, PLOT_TOP, PLOT_RIGHT, PLOT_BOTTOM, 3, 'right-axis-line');
  distanceTicks.forEach(t => {
    drawLine(g, X(t), PLOT_TOP, X(t), PLOT_TOP - 18, 3, 'distance-major-tick');
    drawText(g, String(t), X(t) - 1.5, 180.5, String(t).length * 19.3, 'middle', 'distance-tick-label');
  });
  distanceMinorTicks.forEach(t => drawLine(g, X(t), PLOT_TOP, X(t), PLOT_TOP - 10, 2, 'distance-minor-tick'));
  latLonTickKm.forEach((t, i) => {
    drawLine(g, X(t), PLOT_BOTTOM, X(t), PLOT_BOTTOM + 18, 3, 'latitude-major-tick');
    drawText(g, latLonLabels[i], X(t) - 2, 665.5, 160, 'middle', 'latitude-tick-label');
  });
  latLonMinorKm.forEach(t => drawLine(g, X(t), PLOT_BOTTOM, X(t), PLOT_BOTTOM + 10, 2, 'latitude-minor-tick'));
  altitudeTicks.forEach(t => {
    drawLine(g, PLOT_LEFT, Y(t), PLOT_LEFT - 17, Y(t), 3.5, 'altitude-major-tick');
    drawLine(g, PLOT_RIGHT, Y(t), PLOT_RIGHT + 18, Y(t), 3.5, 'altitude-major-tick-right');
    drawText(g, String(t), 111, Y(t) + 12, String(t).length * 19.3, 'end', 'altitude-tick-label');
  });
  altitudeMinorTicks.forEach(t => {
    drawLine(g, PLOT_LEFT, Y(t), PLOT_LEFT - 10, Y(t), 2.5, 'altitude-minor-tick');
    drawLine(g, PLOT_RIGHT, Y(t), PLOT_RIGHT + 10, Y(t), 2.5, 'altitude-minor-tick-right');
  });
}

/* ---------- panel a ---------- */
(function () {
  const g = makePlot('panel-a', '#ffffff');
  const C = { lc: '#cccccc', fa: '#808080', k: '#000000', gr: '#99ff99', pu: '#660099', or: '#ff8c00', bl: '#87ceeb', ye: '#eeee00', re: '#e60f00', su: '#7f0000' };
  rects(g, aYellowZones, C.ye, 'per-only-region');
  drawPoly(g, aYellowLens, C.ye, 'per-only-region');
  rects(g, aGreenZones, C.gr, 'per-1064-region');
  rects(g, aOrangeZones, C.or, 'par-per-region');
  drawPoly(g, aBlackLowLeft, C.k, 'all-channels-aerosol');
  drawPoly(g, aBlackLowMain, C.k, 'all-channels-aerosol');
  drawPoly(g, aBlackLowRight, C.k, 'all-channels-aerosol');
  rects(g, aBlackZones, C.k, 'all-channels-region');
  rects(g, aPurpleZones.slice(0, 8), C.pu, 'par-1064-region');
  rects(g, aRedZones.slice(0, 5), C.re, 'par-only-region');
  rects(g, aBlueZones.slice(1, 5), C.bl, '1064-only-region');
  rects(g, lowConfidenceCurtains, C.lc, 'low-confidence-curtain');
  rects(g, [[189.5, 191.5, .9, 10.8]], C.fa, 'attenuated-column');
  rects(g, bAttenuatedLines.slice(1), C.fa, 'attenuated-column');
  rects(g, aGrayBand, C.lc, 'low-confidence-band');
  rects(g, aBlueLine, C.bl, 'near-surface-1064-layer');
  polys(g, aYellowPolys, C.ye, 'per-only-cloud');
  [cloudMain, cloudLong, cloudSmall, cloudMid, cloudBitLeft, cloudBitMid].forEach(p => drawPoly(g, p, C.k, 'all-channels-cloud', C.or, 2));
  drawPoly(g, cloudTiny, C.or, 'small-cloud');
  rects(g, aYellowOverCloud, C.ye, 'per-only-patch');
  rects(g, aOrangeOverBlack, C.or, 'par-per-patch');
  rects(g, aPurpleZones.slice(8), C.pu, 'par-1064-patch');
  rects(g, aRedZones.slice(5), C.re, 'par-only-patch');
  rects(g, aBlueZones.slice(0, 1), C.bl, '1064-only-patch');
  rects(g, aBlueZones.slice(5), C.bl, '1064-only-patch');
  rects(g, aSurface, C.su, 'surface-layer');
  spikes(g, profileSpikeKm, C.fa, 'profile-spike', -.25, .75, 1);
})();

/* ---------- panel b ---------- */
(function () {
  const g = makePlot('panel-b', '#74b2ff');
  const C = { weak: '#f4d03f', strong: '#fffff0', gray: '#999999', red: '#e0281a', brown: '#5c2d08', clear: '#74b2ff' };
  drawPoly(g, bWeakLayer, C.weak, 'weak-aerosol-layer');
  drawPoly(g, bClearSliver, C.clear, 'no-detection-gap');
  drawPoly(g, bWeakBlob, C.weak, 'weak-aerosol-blob');
  rects(g, bWeakRects.slice(0, 15), C.weak, 'weak-region');
  rects(g, bGrayBand, C.gray, 'low-confidence-band');
  rects(g, bWeakRects.slice(15, 16), C.weak, 'weak-region');
  rects(g, lowConfidenceCurtains, C.gray, 'low-confidence-curtain');
  rects(g, bStrongBand, C.strong, 'strong-near-surface-band');
  rects(g, bStrongPatches, C.strong, 'strong-patch');
  polys(g, bStrongCaps, C.strong, 'strong-cloud-cap');
  [cloudTopBlob, cloudMain, cloudLong, cloudSmall, cloudMid, cloudBitLeft, cloudBitMid, cloudTiny].forEach(p => drawPoly(g, p, C.strong, 'strong-cloud'));
  drawPoly(g, weakPatchRight, C.weak, 'weak-patch');
  rects(g, bWeakRects.slice(16), C.weak, 'weak-patch');
  rects(g, bAttenuatedLines, C.red, 'attenuated-column');
  rects(g, bSurface, C.brown, 'surface-layer');
  spikes(g, profileSpikeKm, C.red, 'attenuated-spike', -.3, .55, 1.4);
})();

/* ---------- panel c ---------- */
(function () {
  const g = makePlot('panel-c', '#74b2ff');
  const C = { aer: '#f4d03f', cloud: '#fffff0', red: '#e0281a', brown: '#5c2d08', sub: '#2a1a0c', clear: '#74b2ff' };
  drawPoly(g, cAerosolMain, C.aer, 'aerosol-layer');
  drawPoly(g, cAerosolMiddle, C.aer, 'aerosol-layer');
  drawPoly(g, cAerosolRight, C.aer, 'aerosol-layer');
  rects(g, cAerosolRects, C.aer, 'aerosol-block');
  [cCloudLeft, cCloudLong, cCloudLowOne, cCloudLowTwo, cCloudLowThree, cCloudLowFour, cCloudLowFive].forEach(p => drawPoly(g, p, C.cloud, 'cloud-feature'));
  rects(g, cClearHoles, C.clear, 'clear-gap');
  rects(g, cCloudRects, C.cloud, 'cloud-block');
  cCloudSpikes.forEach(s => drawRect(g, [s[0], s[0] + 1, .6, s[1]], C.cloud, 'cloud-streak'));
  spikes(g, cGroundFlecks, C.aer, 'aerosol-fleck', .05, .8, 1.6);
  spikes(g, cCloudFlecks, C.cloud, 'cloud-fleck', .1, .7, 1.3);
  rects(g, cSurface, C.brown, 'surface-layer');
  rects(g, cSubsurface, C.sub, 'subsurface-layer');
  rects(g, cAttenuated, C.red, 'attenuated-column');
})();

/* ---------- panel d ---------- */
(function () {
  const g = makePlot('panel-d', '#ffffff');
  const C = { vfm: '#b5201f', mcda: '#3f3f99', white: '#ffffff', faint: '#a8a8d8' };
  drawPoly(g, cloudLong, 'none', 'cloud-boundary-difference', C.vfm, 2);
  rects(g, dVfmBlocksUpper, C.vfm, 'vfm-only-region');
  drawPoly(g, dVfmBand, C.vfm, 'vfm-only-region');
  drawPoly(g, dVfmBase, C.vfm, 'vfm-only-region');
  [cloudMid, cloudSmall].forEach(p => drawPoly(g, p, C.white, 'matching-cloud'));
  rects(g, dWhiteUpper, C.white, 'matching-region');
  drawPoly(g, cloudMain, 'none', 'cloud-boundary-difference', C.vfm, 2.5);
  polys(g, dBlueTopBlob, C.mcda, 'mcda-only-region');
  polys(g, dNavyWedges, C.mcda, 'mcda-only-region');
  rects(g, dNavyUpper, C.mcda, 'mcda-only-region');
  drawPoly(g, dVfmUpperRight, C.vfm, 'vfm-only-region');
  drawPoly(g, dVfmLowBlock, C.vfm, 'vfm-only-region');
  drawPoly(g, dVfmLeftTop, C.vfm, 'vfm-only-region');
  drawPoly(g, dVfmColumn, C.vfm, 'vfm-only-region');
  rects(g, dVfmBlocksLow, C.vfm, 'vfm-only-region');
  rects(g, dVfmGround, C.vfm, 'vfm-only-ground');
  rects(g, dWhiteLow, C.white, 'matching-region');
  rects(g, dNavyLow, C.mcda, 'mcda-only-region');
  rects(g, dFaintLine, C.faint, 'surface-difference-line');
  spikes(g, profileSpikeKm, C.vfm, 'vfm-only-spike', -.46, .1, 1);
})();

drawAxes('panel-a');
drawAxes('panel-b');
drawAxes('panel-c');
drawAxes('panel-d');
</script>
</body>
</html>
